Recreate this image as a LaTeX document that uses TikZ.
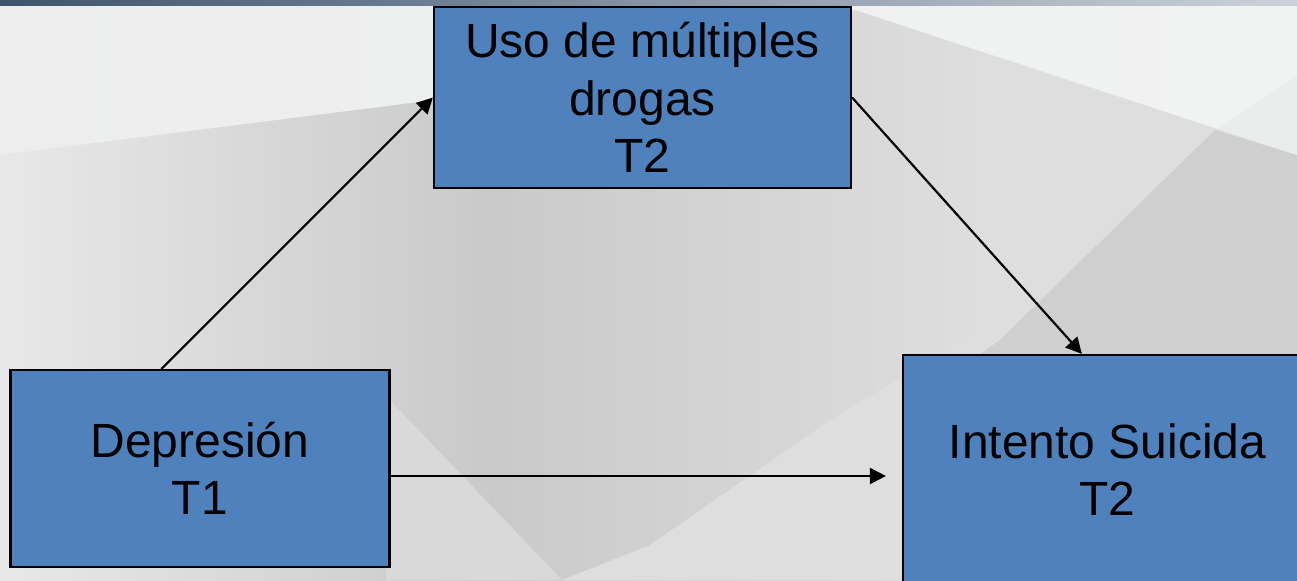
\documentclass[tikz,border=0pt]{standalone}
\usepackage{fontspec}
\setmainfont{Liberation Sans}
\usetikzlibrary{arrows.meta}
\definecolor{boxblue}{HTML}{4F81BD}
\definecolor{bglight}{HTML}{F1F2F2}
\definecolor{bandl}{HTML}{3F546C}
\definecolor{bandr}{HTML}{CDD2DA}
\begin{document}
\begin{tikzpicture}[x=0.5pt,y=-0.5pt,
  box/.style={draw=black, line width=1.1pt, fill=boxblue, inner sep=0pt,
    align=center, font=\fontsize{24pt}{28.75pt}\selectfont},
  link/.style={line width=1.1pt, -{Triangle[length=8pt,width=8pt]}}]
\useasboundingbox (0,0) rectangle (1297,580);
\begin{scope}
\clip (0,0) rectangle (1297,580);
% background facets
\shade[left color=black!9, right color=black!13, middle color=black!21] (0,0) rectangle (980,580);
\fill[black!13] (975,0) rectangle (1297,580);
\fill[black!15] (386,396) -- (562,580) -- (386,580) -- cycle;
\fill[black!13] (562,580) -- (650,545) -- (830,420) -- (980,330) -- (980,580) -- cycle;
\fill[black!19] (1297,155) -- (1297,580) -- (910,580) -- (910,405) -- (1000,340) -- (1215,130) -- (1297,75) -- cycle;
\shade[left color=black!7, right color=bglight] (0,0) -- (1297,0) -- (1297,155) -- (855,10) -- (434,100) -- (0,155) -- cycle;
\fill[black!9, opacity=0.6] (1297,0) -- (1297,155) -- (1215,130) -- (1297,75) -- cycle;
\shade[left color=bandl, right color=bandr] (0,0) rectangle (1297,5);
% boxes
\node[box, minimum width=208.5pt, minimum height=90.5pt] (u) at (642.5,97.5)
  {Uso de múltiples\\drogas\\T2};
\node[box, minimum width=189.5pt, minimum height=98.5pt] (d) at (200,468.5)
  {Depresión\\T1};
\node[box, minimum width=204.5pt, minimum height=114.5pt] (i) at (1107.5,469.5)
  {Intento Suicida\\T2};
% connectors
\draw[link] ([xshift=76pt]d.north west) -- (u.west);
\draw[link] (u.east) -- ([xshift=90pt]i.north west);
\draw[link, shorten >=8pt] ([yshift=-3.75pt]d.east) -- ([yshift=-3.75pt]d.east -| i.west);
\end{scope}
\end{tikzpicture}
\end{document}
